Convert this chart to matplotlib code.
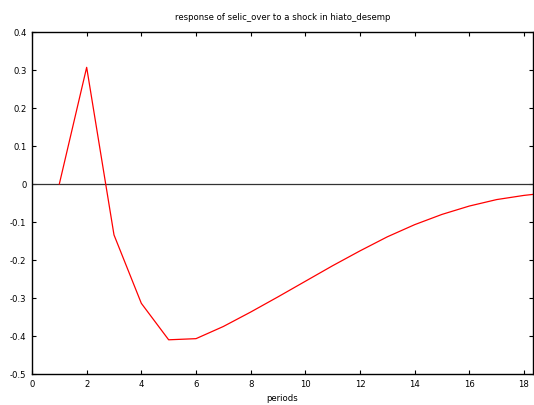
import numpy as np
import matplotlib.pyplot as plt

periods = [1, 2, 3, 4, 5, 6, 7, 8, 9, 10, 11, 12, 13, 14, 15, 16, 17, 18, 19]
response = [0.0, 0.307, -0.134, -0.314, -0.410, -0.407, -0.375, -0.337, -0.297,
            -0.256, -0.215, -0.176, -0.139, -0.107, -0.080, -0.058, -0.041, -0.030, -0.022]
xticks = [0, 2, 4, 6, 8, 10, 12, 14, 16, 18]
yticks = [-0.5, -0.4, -0.3, -0.2, -0.1, 0, 0.1, 0.2, 0.3, 0.4]
ylabels = ['-0.5', '-0.4', '-0.3', '-0.2', '-0.1', '0', '0.1', '0.2', '0.3', '0.4']

fs = 6.1
fig = plt.figure(figsize=(5.34, 4.05), dpi=100)
ax = fig.add_axes([32/534, 31/405, 501/534, 342/405])

ax.axhline(0, color='#333333', lw=0.9)
ax.plot(periods, response, color='#ff0000', lw=0.9)

ax.set_xlim(0, 18.33)
ax.set_ylim(-0.5, 0.4)
ax.set_xticks(xticks)
ax.set_yticks(yticks)
ax.set_yticklabels(ylabels)
ax.tick_params(direction='in', length=3, width=0.8, labelsize=fs, colors='black',
               top=True, right=True, pad=4)
for s in ax.spines.values():
    s.set_linewidth(1.0)

ax.set_title('response of selic_over to a shock in hiato_desemp', fontsize=fs, pad=9)
ax.set_xlabel('periods', fontsize=fs, labelpad=4)

fig.savefig('out.png', dpi=100)
